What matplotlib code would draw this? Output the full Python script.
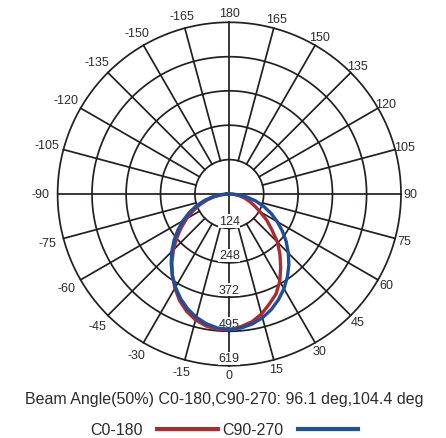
import numpy as np
import matplotlib
matplotlib.use("Agg")
import matplotlib.pyplot as plt
from matplotlib.lines import Line2D

plt.rcParams['font.family'] = ['Liberation Sans', 'DejaVu Sans']

# ---- data (cd), angles measured from nadir ----
angles = [0, 5, 10, 15, 20, 25, 30, 35, 40, 45, 50, 55, 60, 65, 70, 75, 80, 85, 90]
c0_180_pos = [490, 480, 468, 448, 422, 398, 364, 323, 284, 246, 200, 165, 128, 100, 78, 58, 38, 18, 5]
c0_180_neg = [490, 490, 483, 470, 450, 424, 392, 358, 322, 285, 248, 212, 178, 145, 113, 83, 54, 26, 5]
c90_270_pos = [488, 485, 476, 462, 443, 420, 394, 365, 334, 301, 268, 234, 200, 167, 133, 100, 66, 33, 8]
c90_270_neg = [488, 485, 475, 460, 440, 416, 388, 358, 326, 293, 260, 226, 193, 160, 127, 95, 63, 32, 8]

ring_values = [124, 248, 372, 495, 619]
angle_ticks = [0, 15, 30, 45, 60, 75, 90, 105, 120, 135, 150, 165, 180,
               -15, -30, -45, -60, -75, -90, -105, -120, -135, -150, -165]
series_names = ['C0-180', 'C90-270']
title = "Beam Angle(50%) C0-180,C90-270: 96.1 deg,104.4 deg"

red = '#ad2b2f'
blue = '#1d4f9f'
gc = '#231f20'
tc = '#2b2b2b'

W, H = 446, 439
cx, cy, R = 229.3, 195.0, 171.7

fig = plt.figure(figsize=(W / 100, H / 100), dpi=100)
ax = fig.add_axes([(cx - R) / W, (H - cy - R) / H, 2 * R / W, 2 * R / H], projection='polar')
ax.set_theta_zero_location('S')
ax.set_theta_direction(1)
rmax = ring_values[-1]
ax.set_ylim(0, rmax)
ax.axis('off')

# grid rings
th_full = np.linspace(0, 2 * np.pi, 721)
for v in ring_values:
    ax.plot(th_full, np.full_like(th_full, v), color=gc, lw=1.25, clip_on=False, zorder=1)
# radial lines
for a in range(0, 360, 15):
    t = np.radians(a)
    r0 = 0 if a % 90 == 0 else ring_values[0]
    ax.plot([t, t], [r0, rmax], color=gc, lw=1.25, clip_on=False, zorder=1)

px2pt = 72 / 100
# radial value labels
for v in ring_values:
    ax.annotate(str(v), xy=(0, v), xytext=(0, 7.5 * px2pt), textcoords='offset points',
                ha='center', va='center', fontsize=9, color=tc, zorder=3,
                bbox=dict(boxstyle='square,pad=0.05', fc='white', ec='none'))

# angle labels
for a in angle_ticks:
    t = np.radians(a)
    s, c = np.sin(t), np.cos(t)
    dist = 181.0 if a >= 0 else 182.0 + 7.0 * abs(s)
    off = (dist - R) * px2pt
    ax.annotate(str(a), xy=(t, rmax), xytext=(off * s, -off * c), textcoords='offset points',
                ha='center', va='center', fontsize=9, color=tc, annotation_clip=False)


def closed(neg, pos):
    th = [-a for a in reversed(angles)] + angles[1:]
    r = list(reversed(neg)) + pos[1:]
    th.append(th[0])
    r.append(r[0])
    return np.radians(th), r


th_r, r_r = closed(c0_180_neg, c0_180_pos)
th_b, r_b = closed(c90_270_neg, c90_270_pos)
ax.plot(th_r, r_r, color=red, lw=2.4, zorder=4, solid_joinstyle='round')
ax.plot(th_b, r_b, color=blue, lw=2.4, zorder=5, solid_joinstyle='round')

fig.text(0.502, 1 - 400 / H, title, ha='center', va='center', fontsize=11.5, color=tc)

handles = [Line2D([], [], color=red, lw=3), Line2D([], [], color=blue, lw=3)]
fig.legend(handles, series_names, loc='center', bbox_to_anchor=(0.503, 1 - 431 / H), ncol=2,
           frameon=False, markerfirst=False, fontsize=11.5, handlelength=3.8,
           handletextpad=0.9, columnspacing=0.25, borderpad=0, borderaxespad=0,
           labelcolor=tc)

fig.savefig('out.png', dpi=100)
